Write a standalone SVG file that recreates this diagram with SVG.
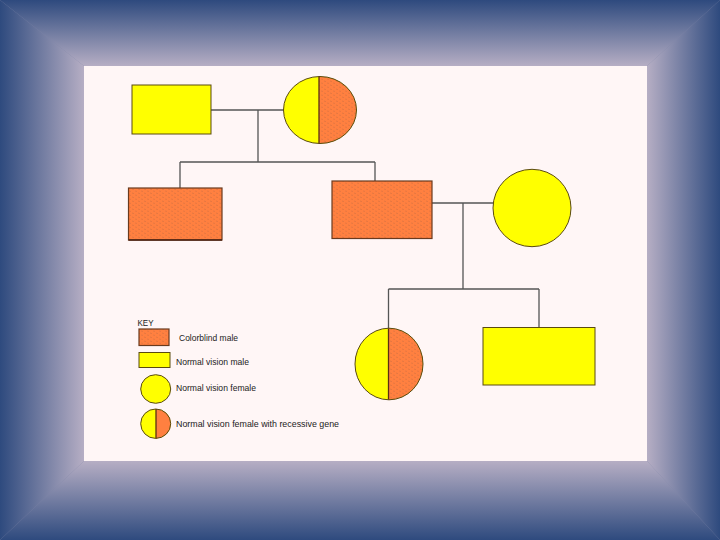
<svg xmlns="http://www.w3.org/2000/svg" width="720" height="540" viewBox="0 0 720 540">
<defs>
<linearGradient id="gTop" x1="0" y1="0" x2="0" y2="66" gradientUnits="userSpaceOnUse"><stop offset="0" stop-color="#2e4a7e"/><stop offset="1" stop-color="#b6aec4"/></linearGradient>
<linearGradient id="gBot" x1="0" y1="540" x2="0" y2="461" gradientUnits="userSpaceOnUse"><stop offset="0" stop-color="#2e4a7e"/><stop offset="1" stop-color="#b6aec4"/></linearGradient>
<linearGradient id="gLeft" x1="0" y1="0" x2="84" y2="0" gradientUnits="userSpaceOnUse"><stop offset="0" stop-color="#2e4a7e"/><stop offset="1" stop-color="#b6aec4"/></linearGradient>
<linearGradient id="gRight" x1="720" y1="0" x2="647" y2="0" gradientUnits="userSpaceOnUse"><stop offset="0" stop-color="#2e4a7e"/><stop offset="1" stop-color="#b6aec4"/></linearGradient>
<pattern id="tex" width="6" height="4" patternUnits="userSpaceOnUse">
<rect width="6" height="4" fill="#ff8040"/>
<path d="M0 1 L2 1.6 M3 3 L5 3.4" stroke="#c06a40" stroke-width="0.6" opacity="0.7"/>
</pattern>
<clipPath id="cMom"><rect x="319" y="70" width="50" height="80"/></clipPath>
<clipPath id="cDau"><rect x="388.5" y="320" width="50" height="90"/></clipPath>
<clipPath id="cKey"><rect x="156" y="405" width="20" height="40"/></clipPath>
</defs>
<style>
.ln{stroke:#555;stroke-width:1.3;fill:none}
.y{fill:#ffff00;stroke:#5a4a10;stroke-width:1}
.o{fill:url(#tex);stroke:#6a3a1e;stroke-width:1.2}
.div{stroke:#5a3010;stroke-width:1.3}
text{font-family:"Liberation Sans",Arial,sans-serif;font-size:9.8px;fill:#222}
</style>
<g id="frame">
<rect width="720" height="540" fill="#7d84a6"/>
<polygon points="0,0 720,0 647,66 84,66" fill="url(#gTop)"/>
<polygon points="0,540 720,540 647,461 84,461" fill="url(#gBot)"/>
<polygon points="0,0 84,66 84,461 0,540" fill="url(#gLeft)"/>
<polygon points="720,0 647,66 647,461 720,540" fill="url(#gRight)"/>
<rect x="84" y="66" width="563" height="395" fill="#fff6f6"/>
</g>
<g id="connectors">
<path class="ln" d="M211 110 H284 M258 110 V162 M180 162 H375 M180 162 V188 M375 162 V181"/>
<path class="ln" d="M432 203 H493" stroke-width="1.8"/>
<path class="ln" d="M463 203 V289 M388.5 289 H539 M388.5 289 V328 M539 289 V327"/>
</g>
<g id="grandfather"><rect class="y" x="132" y="85" width="79" height="49"/></g>
<g id="grandmother">
<ellipse cx="320" cy="110" rx="36.5" ry="33.5" fill="#ffff00"/>
<ellipse cx="320" cy="110" rx="36.5" ry="33.5" fill="url(#tex)" clip-path="url(#cMom)"/>
<ellipse cx="320" cy="110" rx="36.5" ry="33.5" fill="none" stroke="#5a4a10" stroke-width="1"/>
<line class="div" x1="319" y1="76.5" x2="319" y2="143.5"/>
</g>
<g id="son1"><rect class="o" x="128.5" y="188" width="93.5" height="52"/><line x1="128.5" y1="240" x2="222" y2="240" stroke="#4a2010" stroke-width="1.6"/></g>
<g id="son2"><rect class="o" x="332" y="181" width="100" height="57.5"/></g>
<g id="wife"><ellipse class="y" cx="532" cy="208" rx="39" ry="38.7"/></g>
<g id="daughter">
<ellipse cx="389" cy="364" rx="34" ry="35.8" fill="#ffff00"/>
<ellipse cx="389" cy="364" rx="34" ry="35.8" fill="url(#tex)" clip-path="url(#cDau)"/>
<ellipse cx="389" cy="364" rx="34" ry="35.8" fill="none" stroke="#5a4a10" stroke-width="1"/>
<line class="div" x1="388.5" y1="328.5" x2="388.5" y2="399.5"/>
</g>
<g id="grandson"><rect class="y" x="483" y="327.5" width="112" height="57.5"/></g>
<g id="key">
<text x="137.5" y="325.5" textLength="16" lengthAdjust="spacingAndGlyphs">KEY</text>
<rect class="o" x="139" y="329" width="30" height="16.5"/>
<text x="179" y="340.5" textLength="59" lengthAdjust="spacingAndGlyphs">Colorblind male</text>
<rect class="y" x="139" y="352.5" width="31" height="15"/>
<text x="176" y="365" textLength="73" lengthAdjust="spacingAndGlyphs">Normal vision male</text>
<ellipse class="y" cx="155.7" cy="389" rx="15" ry="14.3"/>
<text x="176" y="391" textLength="80" lengthAdjust="spacingAndGlyphs">Normal vision female</text>
<ellipse cx="155.7" cy="423.7" rx="15" ry="14.7" fill="#ffff00"/>
<ellipse cx="155.7" cy="423.7" rx="15" ry="14.7" fill="#ff8040" clip-path="url(#cKey)"/>
<ellipse cx="155.7" cy="423.7" rx="15" ry="14.7" fill="none" stroke="#5a4a10" stroke-width="1"/>
<line class="div" x1="156" y1="409" x2="156" y2="438.4"/>
<text x="176" y="427" textLength="163" lengthAdjust="spacingAndGlyphs">Normal vision female with recessive gene</text>
</g>
</svg>
